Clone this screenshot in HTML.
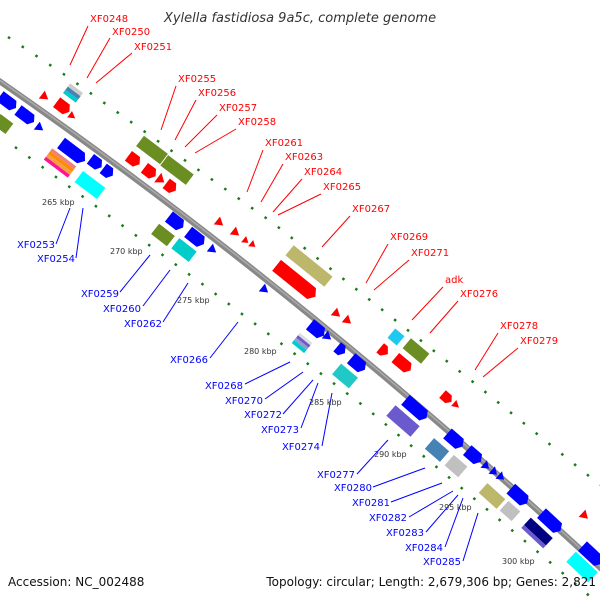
<!DOCTYPE html>
<html><head><meta charset="utf-8"><style>
html,body{margin:0;padding:0;background:#fff}
svg{display:block}
text{font-family:"DejaVu Sans","Liberation Sans",sans-serif}
.r{fill:#f00;font-size:10px}
.b{fill:#00f;font-size:10px;text-anchor:end}
.k{fill:#333;font-size:8px}
.lr{stroke:#f00;stroke-width:1}
.lb{stroke:#00f;stroke-width:1}
</style></head><body>
<svg width="600" height="600" viewBox="0 0 600 600" xmlns="http://www.w3.org/2000/svg">
<defs>
<g id="dummy"></g>
</defs>
<!-- dotted rows -->
<path d="M8,37 L65,75 L273,223 L473,382 L600,485" fill="none" stroke="#1a7a1a" stroke-width="2.5" stroke-dasharray="2.5 14"/>
<path d="M15,147 L205,286 L365,407 L545,558 L600,605" fill="none" stroke="#1a7a1a" stroke-width="2.5" stroke-dasharray="2.5 14"/>
<!-- backbone -->
<path d="M-5,78 Q300,289 605,572" fill="none" stroke="#888" stroke-width="6"/>
<path d="M-5,77 Q300,288 605,571" fill="none" stroke="#aaa" stroke-width="1.5"/>

<!-- above features -->
<g transform="translate(45,97) rotate(37)"><polygon points="-4,-5 4,0 -4,5" fill="#f00"/></g>
<g transform="translate(73,93) rotate(37)"><rect x="-8" y="-6" width="16" height="4" fill="#ccc"/><rect x="-8" y="-2" width="16" height="4" fill="#4682b4"/><rect x="-8" y="2" width="16" height="4" fill="#0cc"/></g>
<g transform="translate(63,107) rotate(37)"><polygon points="-8,-6 4,-6 8,0 4,6 -8,6" fill="#f00"/></g>
<g transform="translate(72,116) rotate(37)"><polygon points="-3,-4 4,0 -3,4" fill="#f00"/></g>
<g transform="translate(152,150) rotate(37)"><rect x="-15" y="-6.5" width="30" height="13" fill="#6b8e23"/></g>
<g transform="translate(177,170) rotate(37)"><rect x="-16" y="-6.5" width="32" height="13" fill="#6b8e23"/></g>
<g transform="translate(134,160) rotate(37)"><polygon points="-7,-6 3,-6 7,0 3,6 -7,6" fill="#f00"/></g>
<g transform="translate(150,172) rotate(37)"><polygon points="-7,-6 3,-6 7,0 3,6 -7,6" fill="#f00"/></g>
<g transform="translate(161,180) rotate(37)"><polygon points="-4,-6 4,0 -4,6" fill="#f00"/></g>
<g transform="translate(171,187) rotate(37)"><polygon points="-6,-6 2,-6 6,0 2,6 -6,6" fill="#f00"/></g>
<g transform="translate(220,223) rotate(39)"><polygon points="-4,-5 4,0 -4,5" fill="#f00"/></g>
<g transform="translate(236,233) rotate(39)"><polygon points="-4,-5 4,0 -4,5" fill="#f00"/></g>
<g transform="translate(246,241) rotate(39)"><polygon points="-3,-4 3,0 -3,4" fill="#f00"/></g>
<g transform="translate(253,245) rotate(39)"><polygon points="-3,-4 3,0 -3,4" fill="#f00"/></g>
<g transform="translate(309,266) rotate(39)"><rect x="-25" y="-6.5" width="50" height="13" fill="#bdb76b"/></g>
<g transform="translate(296,281) rotate(39)"><polygon points="-25,-7 20,-7 25,0 20,7 -25,7" fill="#f00"/></g>
<g transform="translate(337,314) rotate(40)"><polygon points="-4,-5 4,0 -4,5" fill="#f00"/></g>
<g transform="translate(348,321) rotate(40)"><polygon points="-4,-5 4,0 -4,5" fill="#f00"/></g>
<g transform="translate(396,337) rotate(40)"><rect x="-6" y="-6" width="12" height="12" fill="#1ec8f0"/></g>
<g transform="translate(416,351) rotate(40)"><rect x="-12" y="-6.5" width="24" height="13" fill="#6b8e23"/></g>
<g transform="translate(384,351) rotate(40)"><polygon points="-5,-6 0,-6 5,0 0,6 -5,6" fill="#f00"/></g>
<g transform="translate(403,364) rotate(40)"><polygon points="-10,-6 6,-6 10,0 6,6 -10,6" fill="#f00"/></g>
<g transform="translate(447,398) rotate(41)"><polygon points="-6,-5 2,-5 6,0 2,5 -6,5" fill="#f00"/></g>
<g transform="translate(456,405) rotate(41)"><polygon points="-3,-4 4,0 -3,4" fill="#f00"/></g>
<g transform="translate(585,516) rotate(43)"><polygon points="-4,-5 4,0 -4,5" fill="#f00"/></g>

<!-- below features -->
<g transform="translate(8,102) rotate(37)"><polygon points="-10,-6 6,-6 10,0 6,6 -10,6" fill="#00f"/></g>
<g transform="translate(26,116) rotate(37)"><polygon points="-10,-6 6,-6 10,0 6,6 -10,6" fill="#00f"/></g>
<g transform="translate(3,124) rotate(37)"><rect x="-8" y="-6.5" width="16" height="13" fill="#6b8e23"/></g>
<g transform="translate(40,128) rotate(37)"><polygon points="-4,-5 4,0 -4,5" fill="#00f"/></g>
<g transform="translate(73,152) rotate(37)"><polygon points="-15,-6.5 10,-6.5 15,0 10,6.5 -15,6.5" fill="#00f"/></g>
<g transform="translate(60,163) rotate(37)"><rect x="-15" y="-7" width="30" height="3.5" fill="#f08080"/><rect x="-15" y="-3.5" width="30" height="3.5" fill="#ff8c00"/><rect x="-15" y="0" width="30" height="3.5" fill="#f4a040"/><rect x="-15" y="3.5" width="30" height="3.5" fill="#ff1493"/></g>
<g transform="translate(96,163) rotate(37)"><polygon points="-7,-6 3,-6 7,0 3,6 -7,6" fill="#00f"/></g>
<g transform="translate(108,172) rotate(37)"><polygon points="-6,-6 2,-6 6,0 2,6 -6,6" fill="#00f"/></g>
<g transform="translate(90,185) rotate(37)"><rect x="-14" y="-7" width="28" height="14" fill="#0ff"/></g>
<g transform="translate(176,222) rotate(38)"><polygon points="-9,-6.5 5,-6.5 9,0 5,6.5 -9,6.5" fill="#00f"/></g>
<g transform="translate(196,238) rotate(38)"><polygon points="-10,-6.5 6,-6.5 10,0 6,6.5 -10,6.5" fill="#00f"/></g>
<g transform="translate(163,235) rotate(38)"><rect x="-10" y="-6.5" width="20" height="13" fill="#6b8e23"/></g>
<g transform="translate(184,250) rotate(38)"><rect x="-11" y="-6.5" width="22" height="13" fill="#0cc"/></g>
<g transform="translate(213,250) rotate(38)"><polygon points="-4,-5 4,0 -4,5" fill="#00f"/></g>
<g transform="translate(265,290) rotate(39)"><polygon points="-4,-5 4,0 -4,5" fill="#00f"/></g>
<g transform="translate(317,330) rotate(39)"><polygon points="-9,-6.5 5,-6.5 9,0 5,6.5 -9,6.5" fill="#00f"/></g>
<g transform="translate(302,343) rotate(39)"><rect x="-8" y="-6.5" width="16" height="3" fill="#ddd"/><rect x="-8" y="-3.5" width="16" height="3" fill="#6a5acd"/><rect x="-8" y="-0.5" width="16" height="3" fill="#9999cc"/><rect x="-8" y="2.5" width="16" height="4" fill="#0cc"/></g>
<g transform="translate(328,337) rotate(39)"><polygon points="-4,-5 4,0 -4,5" fill="#00f"/></g>
<g transform="translate(341,350) rotate(40)"><polygon points="-5,-6 1,-6 5,0 1,6 -5,6" fill="#00f"/></g>
<g transform="translate(358,364) rotate(40)"><polygon points="-9,-6.5 5,-6.5 9,0 5,6.5 -9,6.5" fill="#00f"/></g>
<g transform="translate(345,376) rotate(40)"><rect x="-11" y="-7" width="22" height="14" fill="#20c8c8"/></g>
<g transform="translate(416,409) rotate(41)"><polygon points="-14,-6.5 10,-6.5 14,0 10,6.5 -14,6.5" fill="#00f"/></g>
<g transform="translate(403,421) rotate(41)"><rect x="-16" y="-7" width="32" height="14" fill="#6a5acd"/></g>
<g transform="translate(455,440) rotate(41)"><polygon points="-10,-6.5 6,-6.5 10,0 6,6.5 -10,6.5" fill="#00f"/></g>
<g transform="translate(474,456) rotate(41)"><polygon points="-9,-6.5 5,-6.5 9,0 5,6.5 -9,6.5" fill="#00f"/></g>
<g transform="translate(486,466) rotate(41)"><polygon points="-3,-5 4,0 -3,5" fill="#00f"/></g>
<g transform="translate(494,472) rotate(41)"><polygon points="-3,-5 4,0 -3,5" fill="#00f"/></g>
<g transform="translate(501,477) rotate(41)"><polygon points="-3,-5 4,0 -3,5" fill="#00f"/></g>
<g transform="translate(519,496) rotate(42)"><polygon points="-11,-6.5 7,-6.5 11,0 7,6.5 -11,6.5" fill="#00f"/></g>
<g transform="translate(437,450) rotate(41)"><rect x="-10" y="-7" width="20" height="14" fill="#4682b4"/></g>
<g transform="translate(456,466) rotate(41)"><rect x="-9" y="-7" width="18" height="14" fill="#c0c0c0"/></g>
<g transform="translate(492,496) rotate(42)"><rect x="-12" y="-6.5" width="24" height="13" fill="#bdb76b"/></g>
<g transform="translate(510,511) rotate(42)"><rect x="-8" y="-6.5" width="16" height="13" fill="#c0c0c0"/></g>
<g transform="translate(551,522) rotate(43)"><polygon points="-13,-6.5 9,-6.5 13,0 9,6.5 -13,6.5" fill="#00f"/></g>
<g transform="translate(537,533) rotate(43)"><rect x="-15" y="-7" width="30" height="10" fill="#000080"/><rect x="-15" y="3" width="30" height="4" fill="#6a5acd"/></g>
<g transform="translate(582,567) rotate(43)"><rect x="-15" y="-7" width="30" height="14" fill="#0ff"/></g>
<g transform="translate(592,555) rotate(43)"><polygon points="-13,-6.5 9,-6.5 13,0 9,6.5 -13,6.5" fill="#00f"/></g>

<!-- red labels -->
<g>
<line class="lr" x1="88" y1="26" x2="70" y2="65"/><text class="r" x="90" y="22">XF0248</text>
<line class="lr" x1="110" y1="38" x2="87" y2="78"/><text class="r" x="112" y="35">XF0250</text>
<line class="lr" x1="132" y1="53" x2="96" y2="83"/><text class="r" x="134" y="50">XF0251</text>
<line class="lr" x1="176" y1="86" x2="161" y2="130"/><text class="r" x="178" y="82">XF0255</text>
<line class="lr" x1="196" y1="100" x2="175" y2="140"/><text class="r" x="198" y="96">XF0256</text>
<line class="lr" x1="217" y1="115" x2="185" y2="147"/><text class="r" x="219" y="111">XF0257</text>
<line class="lr" x1="236" y1="129" x2="195" y2="153"/><text class="r" x="238" y="125">XF0258</text>
<line class="lr" x1="263" y1="150" x2="247" y2="192"/><text class="r" x="265" y="146">XF0261</text>
<line class="lr" x1="283" y1="164" x2="261" y2="202"/><text class="r" x="285" y="160">XF0263</text>
<line class="lr" x1="302" y1="179" x2="273" y2="212"/><text class="r" x="304" y="175">XF0264</text>
<line class="lr" x1="321" y1="194" x2="278" y2="215"/><text class="r" x="323" y="190">XF0265</text>
<line class="lr" x1="350" y1="216" x2="322" y2="247"/><text class="r" x="352" y="212">XF0267</text>
<line class="lr" x1="388" y1="244" x2="366" y2="283"/><text class="r" x="390" y="240">XF0269</text>
<line class="lr" x1="409" y1="260" x2="374" y2="290"/><text class="r" x="411" y="256">XF0271</text>
<line class="lr" x1="443" y1="287" x2="412" y2="320"/><text class="r" x="445" y="283">adk</text>
<line class="lr" x1="458" y1="301" x2="430" y2="333"/><text class="r" x="460" y="297">XF0276</text>
<line class="lr" x1="498" y1="333" x2="475" y2="370"/><text class="r" x="500" y="329">XF0278</text>
<line class="lr" x1="518" y1="348" x2="483" y2="377"/><text class="r" x="520" y="344">XF0279</text>
</g>
<!-- blue labels -->
<g>
<line class="lb" x1="56" y1="244" x2="70" y2="208"/><text class="b" x="55" y="248">XF0253</text>
<line class="lb" x1="76" y1="258" x2="83" y2="208"/><text class="b" x="75" y="262">XF0254</text>
<line class="lb" x1="120" y1="292" x2="150" y2="255"/><text class="b" x="119" y="297">XF0259</text>
<line class="lb" x1="143" y1="306" x2="170" y2="270"/><text class="b" x="141" y="312">XF0260</text>
<line class="lb" x1="163" y1="322" x2="188" y2="283"/><text class="b" x="162" y="327">XF0262</text>
<line class="lb" x1="210" y1="358" x2="238" y2="322"/><text class="b" x="208" y="363">XF0266</text>
<line class="lb" x1="245" y1="384" x2="290" y2="362"/><text class="b" x="243" y="389">XF0268</text>
<line class="lb" x1="265" y1="399" x2="303" y2="372"/><text class="b" x="263" y="404">XF0270</text>
<line class="lb" x1="283" y1="414" x2="313" y2="380"/><text class="b" x="282" y="418">XF0272</text>
<line class="lb" x1="301" y1="428" x2="318" y2="383"/><text class="b" x="299" y="433">XF0273</text>
<line class="lb" x1="322" y1="446" x2="332" y2="393"/><text class="b" x="320" y="450">XF0274</text>
<line class="lb" x1="357" y1="474" x2="388" y2="440"/><text class="b" x="355" y="478">XF0277</text>
<line class="lb" x1="373" y1="487" x2="425" y2="468"/><text class="b" x="372" y="491">XF0280</text>
<line class="lb" x1="391" y1="502" x2="442" y2="483"/><text class="b" x="390" y="506">XF0281</text>
<line class="lb" x1="409" y1="517" x2="453" y2="491"/><text class="b" x="407" y="521">XF0282</text>
<line class="lb" x1="426" y1="532" x2="458" y2="495"/><text class="b" x="424" y="536">XF0283</text>
<line class="lb" x1="445" y1="547" x2="463" y2="498"/><text class="b" x="443" y="551">XF0284</text>
<line class="lb" x1="463" y1="561" x2="478" y2="513"/><text class="b" x="461" y="565">XF0285</text>
</g>
<!-- kbp -->
<text class="k" x="42" y="205">265 kbp</text>
<text class="k" x="110" y="254">270 kbp</text>
<text class="k" x="177" y="303">275 kbp</text>
<text class="k" x="244" y="354">280 kbp</text>
<text class="k" x="309" y="405">285 kbp</text>
<text class="k" x="374" y="457">290 kbp</text>
<text class="k" x="439" y="510">295 kbp</text>
<text class="k" x="502" y="564">300 kbp</text>

<text x="300" y="22" text-anchor="middle" font-size="13" font-style="italic" fill="#333">Xylella fastidiosa 9a5c, complete genome</text>
<text x="8" y="586" font-size="12" fill="#111">Accession: NC_002488</text>
<text x="596" y="586" font-size="12" fill="#111" text-anchor="end">Topology: circular; Length: 2,679,306 bp; Genes: 2,821</text>
</svg>
</body></html>
